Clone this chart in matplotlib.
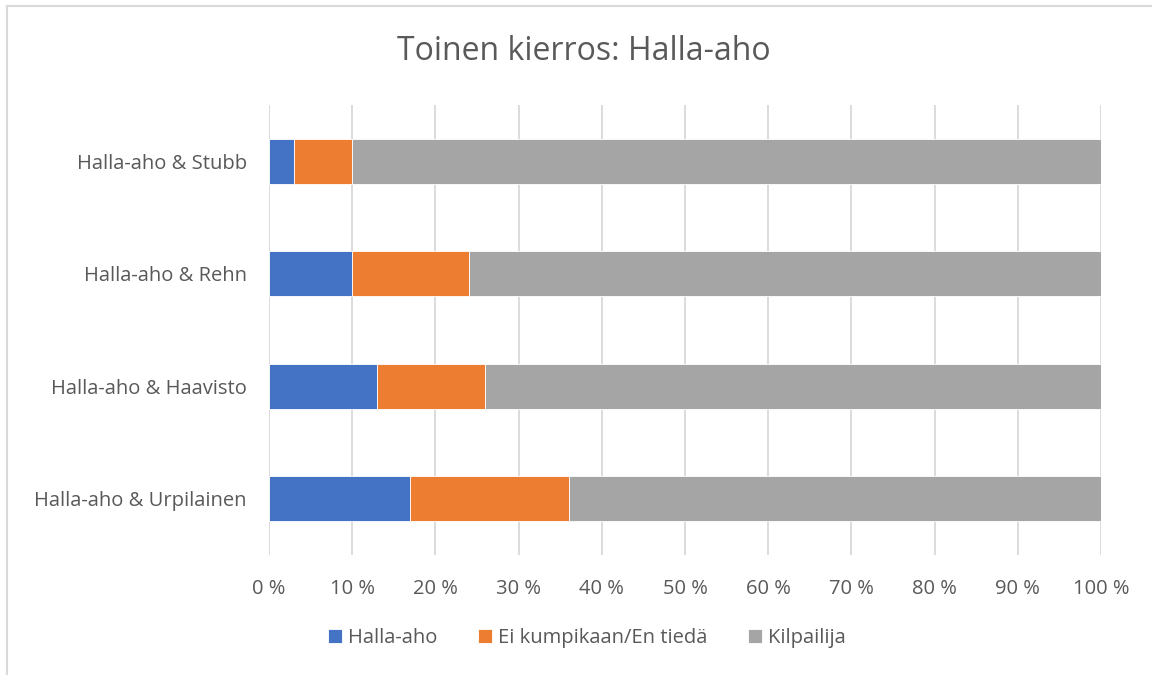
import matplotlib
matplotlib.use("Agg")
import matplotlib.pyplot as plt
from matplotlib.lines import Line2D
from matplotlib.ticker import FuncFormatter

categories = ["Halla-aho & Stubb", "Halla-aho & Rehn", "Halla-aho & Haavisto", "Halla-aho & Urpilainen"]
halla_aho = [3, 10, 13, 17]
ei_kumpikaan = [7, 14, 13, 19]
kilpailija = [90, 76, 74, 64]
series_names = ["Halla-aho", "Ei kumpikaan/En tiedä", "Kilpailija"]
colors = ["#4472C4", "#ED7D31", "#A5A5A5"]
xticks = list(range(0, 101, 10))

plt.rcParams['font.family'] = ['Open Sans', 'DejaVu Sans']
text_color = "#595959"

fig = plt.figure(figsize=(11.52, 6.75), dpi=100)
ax = fig.add_axes([269/1152, 1-555/675, (1101-269)/1152, (555-105)/675])

y = list(range(len(categories)))
left = [0]*len(categories)
for vals, name, col in zip([halla_aho, ei_kumpikaan, kilpailija], series_names, colors):
    ax.barh(y, vals, left=left, height=0.4, color=col, label=name, zorder=3,
            edgecolor="white", linewidth=0.6)
    left = [l + v for l, v in zip(left, vals)]

ax.set_ylim(len(categories)-0.5, -0.5)
ax.set_xlim(0, 100)
ax.set_yticks(y)
ax.set_yticklabels(categories, fontsize=14.5, color=text_color)
ax.set_xticks(xticks)
ax.xaxis.set_major_formatter(FuncFormatter(lambda v, p: f"{int(v)} %"))
ax.tick_params(axis='x', labelsize=14.5, labelcolor=text_color, length=0, pad=17)
ax.tick_params(axis='y', length=0, pad=16)
ax.grid(axis='x', color="#D9D9D9", linewidth=1.3, zorder=0)
for s in ax.spines.values():
    s.set_visible(False)

fig.text(584/1152, 1-51/675, "Toinen kierros: Halla-aho", ha='center', va='center',
         fontsize=23, color=text_color)

leg = fig.legend(loc='center', bbox_to_anchor=(587/1152, 1-638/675), ncol=3, frameon=False,
                 fontsize=14.5, handlelength=0.7, handleheight=0.7, columnspacing=2.0,
                 handletextpad=0.3)
for t in leg.get_texts():
    t.set_color(text_color)

fig.add_artist(Line2D([6.5/1152, 1], [1-5.5/675, 1-5.5/675], color="#D9D9D9", linewidth=1.5))
fig.add_artist(Line2D([6.5/1152, 6.5/1152], [0, 1-5.5/675], color="#D9D9D9", linewidth=1.5))

fig.savefig("out.png", dpi=100)
